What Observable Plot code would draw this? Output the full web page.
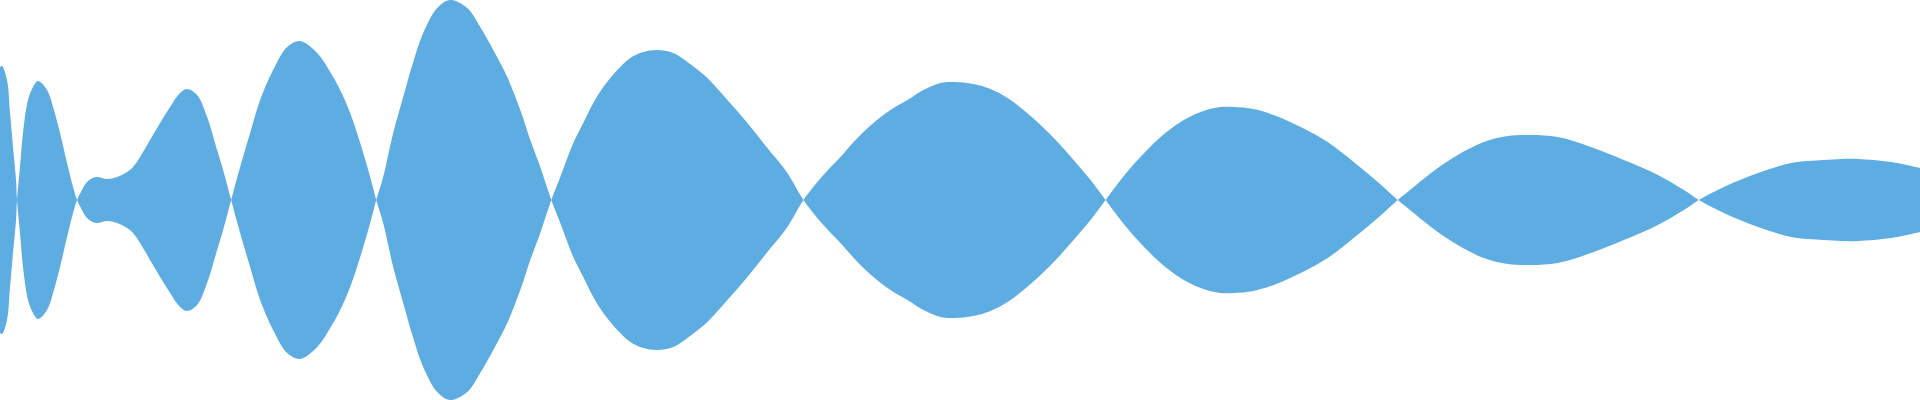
<!DOCTYPE html>
<html>
<head>
<meta charset="utf-8">
<script src="https://cdn.jsdelivr.net/npm/d3@7"></script>
<script src="https://cdn.jsdelivr.net/npm/@observablehq/plot@0.6"></script>
<style>
  html, body { margin: 0; padding: 0; background: #fff; }
  #chart svg { display: block; }
</style>
</head>
<body>
<div id="chart"></div>
<script>
// Sample positions (time) and signed signal amplitude
const time = [
  0, 2, 7, 10, 13, 16, 17,
  20, 23, 28, 33, 38, 47, 53, 60, 67, 73, 77,
  82, 87, 96, 107, 117, 127, 133, 140, 150, 160, 170, 180, 187, 197, 207, 217, 223, 231,
  240, 250, 260, 273, 287, 300, 317, 330, 340, 350, 360, 370, 376,
  383, 393, 403, 413, 423, 437, 450, 467, 480, 493, 507, 520, 530, 540, 551,
  560, 573, 583, 593, 603, 617, 630, 643, 657, 673, 687, 707, 727, 747, 767, 787, 803,
  823, 840, 857, 873, 890, 907, 923, 940, 953, 973, 990, 1007, 1023, 1040, 1057, 1073, 1090, 1105,
  1120, 1137, 1160, 1180, 1200, 1220, 1233, 1253, 1273, 1300, 1327, 1353, 1377, 1397,
  1413, 1433, 1457, 1483, 1507, 1530, 1557, 1590, 1623, 1657, 1683, 1698,
  1723, 1757, 1790, 1823, 1840, 1857, 1890, 1919
];
const amplitude = [
  133, 134, 120, 87, 53, 20, 0,
  -33, -67, -100, -113, -119, -110, -93, -67, -37, -13, 0,
  10, 18, 23, 21, 23, 28, 33, 43, 60, 77, 93, 107, 111, 105, 83, 50, 30, 0,
  -33, -67, -100, -130, -153, -159, -147, -128, -110, -87, -57, -23, 0,
  23, 67, 103, 138, 167, 192, 200, 192, 173, 150, 123, 90, 60, 33, 0,
  -23, -57, -77, -97, -113, -130, -142, -148, -150, -147, -138, -122, -100, -77, -52, -27, 0,
  25, 43, 62, 77, 90, 100, 110, 117, 118, 116, 111, 102, 90, 75, 58, 40, 20, 0,
  -20, -40, -63, -78, -88, -93, -93, -91, -85, -73, -58, -38, -18, 0,
  13, 29, 45, 58, 64, 65, 63, 53, 40, 25, 10, 0,
  -13, -27, -37, -40, -41, -41, -38, -32
];

const data = time.map((t, i) => ({t, v: amplitude[i]}));

const chart = Plot.plot({
  width: 1920,
  height: 400,
  margin: 0,
  x: {domain: [0, 1919], axis: null},
  y: {domain: [-200, 200], axis: null},
  marks: [
    Plot.areaY(data, {
      x: "t",
      y1: d => -d.v,
      y2: "v",
      fill: "#5dade2",
      curve: "catmull-rom"
    })
  ]
});
document.getElementById("chart").appendChild(chart);
</script>
</body>
</html>
